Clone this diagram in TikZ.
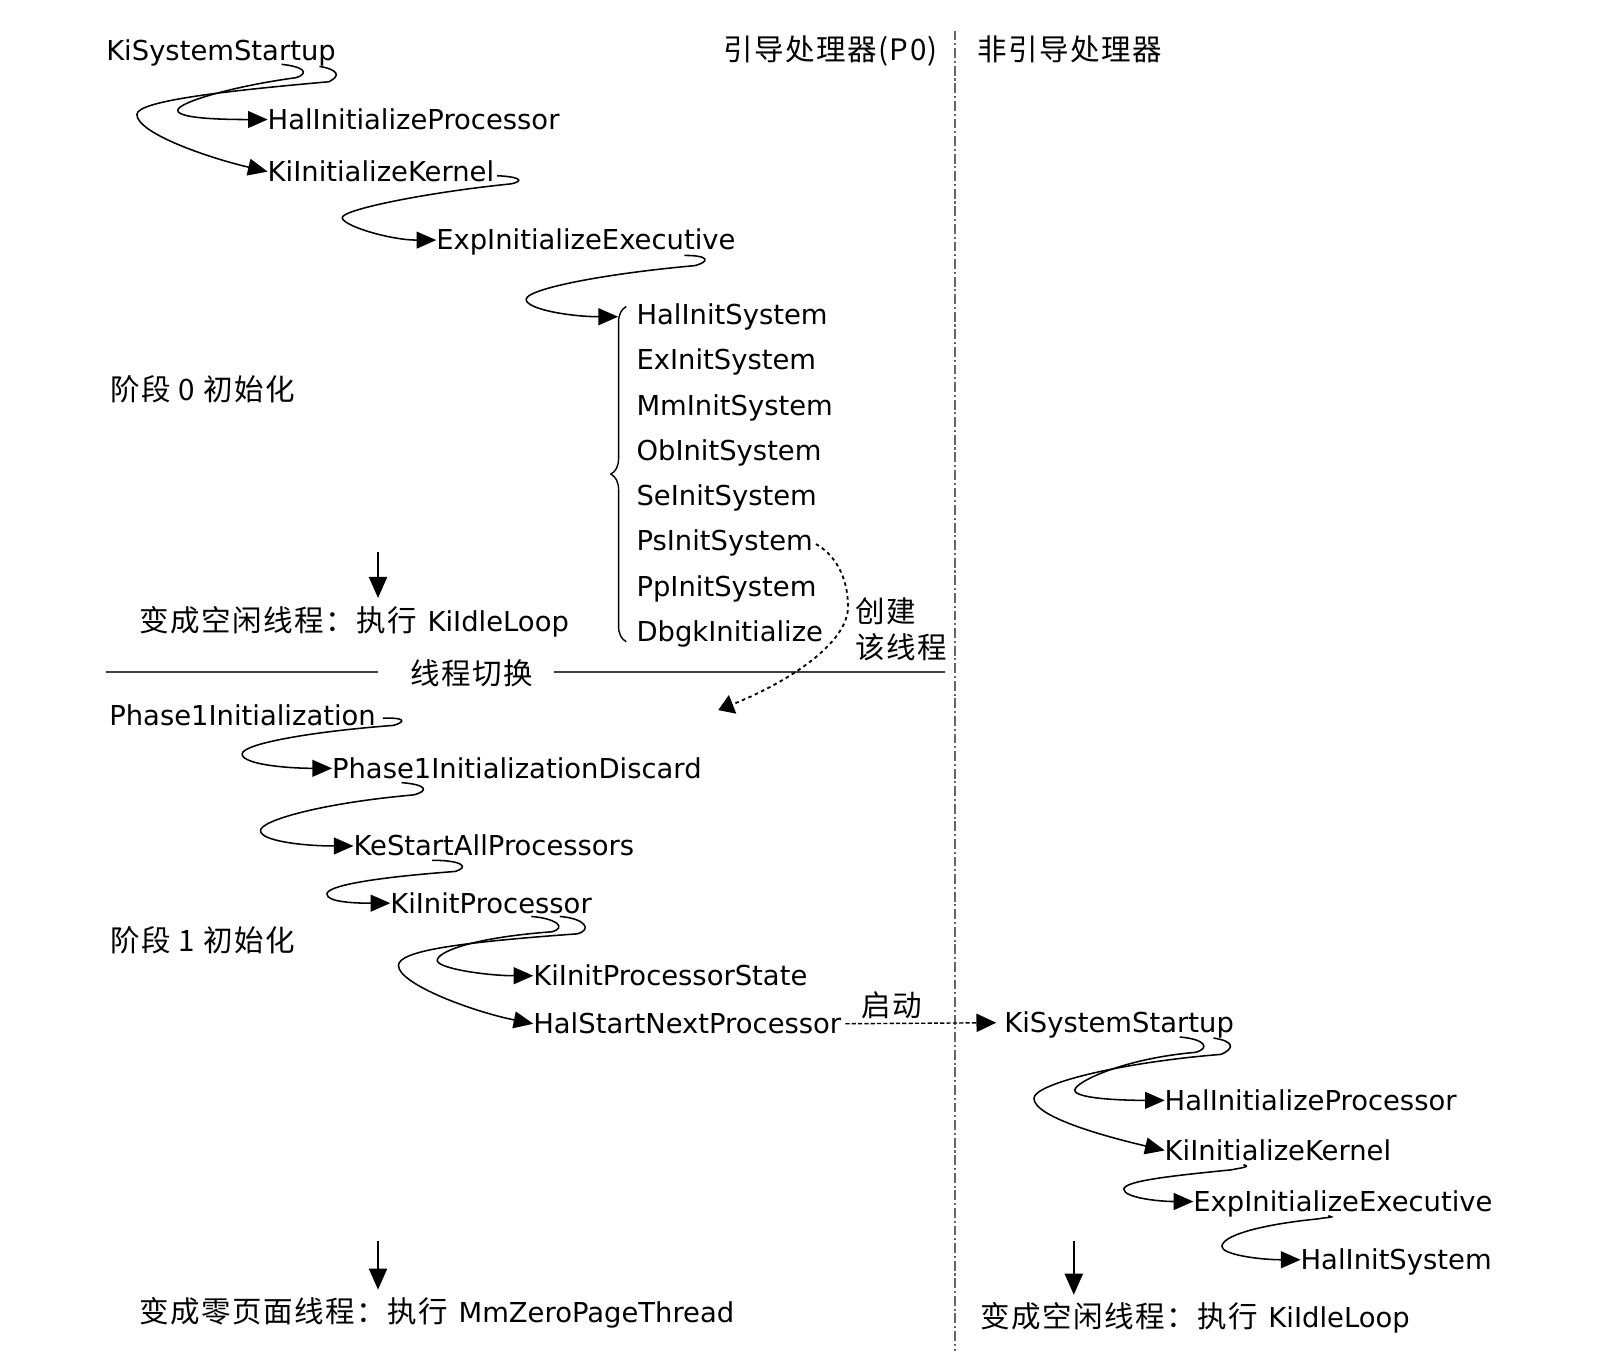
\documentclass[tikz,border=0pt]{standalone}
\usepackage{fontspec}
\setmainfont{DejaVu Sans}
\newfontfamily\cjk[LetterSpace=5]{Noto Sans CJK SC}
\newcommand\zhtext[1]{{\cjk\fontsize{21}{25}\selectfont #1}}
\usetikzlibrary{arrows.meta,decorations.pathreplacing}
\tikzset{
  fn/.style = {anchor=west, inner sep=0pt, outer sep=0pt,
               text height=15pt, text depth=1pt},
  call/.style = {line width=1.1pt, -{Triangle[length=14pt,width=12pt]}},
  down/.style = {line width=1pt, shorten >=0.3cm,
                 -{Triangle[length=15pt,width=13pt]}},
  spawn/.style = {line width=1.3pt, dash pattern=on 2.5pt off 2.5pt,
                  -{Triangle[length=11pt,width=14pt]}},
  wake/.style = {line width=1pt, dash pattern=on 3pt off 1.5pt,
                 -{Triangle[length=14pt,width=13pt]}},
  sepline/.style = {black!75, line width=1.2pt},
  divider/.style = {black!60, line width=1.2pt,
                    dash pattern=on 7pt off 2pt on 1.5pt off 2pt}
}

\begin{document}
\begin{tikzpicture}[x=0.02555cm, y=-0.02555cm, font=\fontsize{19.5}{23}\selectfont]
	\def \dy{44.3}
	\useasboundingbox (0,0) rectangle (1568,1322);

	% Processors
	\draw[divider] (935,30) -- (935,1322);
	\node[fn] (kss) at (104,50) {KiSystemStartup};
	\node[fn, anchor=east] (boot) at (918,50) {\zhtext{引导处理器(P0)}};
	\node[fn] (nonboot) at (957,50) {\zhtext{非引导处理器}};

	% Phase 0
	\node[fn] (hip) at (262,117) {HalInitializeProcessor};
	\node[fn] (kik) at (262,168) {KiInitializeKernel};
	\node[fn] (eie) at (427,235) {ExpInitializeExecutive};
	\node[fn] (his) at (623,308) {HalInitSystem};
	\node[fn] (exs) at (623,308+1*\dy) {ExInitSystem};
	\node[fn] (mms) at (623,308+2*\dy) {MmInitSystem};
	\node[fn] (obs) at (623,308+3*\dy) {ObInitSystem};
	\node[fn] (ses) at (623,308+4*\dy) {SeInitSystem};
	\node[fn] (pss) at (623,308+5*\dy) {PsInitSystem};
	\node[fn] (pps) at (623,308+6*\dy) {PpInitSystem};
	\node[fn] (dbg) at (623,308+7*\dy) {DbgkInitialize};
	\node[fn] (ph0) at (108,382) {\zhtext{阶段 0 初始化}};
	\node[fn] (idle) at (137,608) {\zhtext{变成空闲线程：执行}\hspace{1pt} KiIdleLoop};

	\draw[call] ([shift={(-53,13)}]kss.east)
		.. controls +(20,2) and +(14,-5) .. (290,76)
		.. controls +(-60,8) and +(0,-8) .. (174,108)
		.. controls +(0,8) and +(-45,0) .. (hip.west);
	\draw[call] ([shift={(-16,15)}]kss.east)
		.. controls +(18,3) and +(12,-6) .. (322,80)
		.. controls +(-90,8) and +(0,-14) .. (134,112)
		.. controls +(0,18) and +(-60,-14) .. (kik.west);
	\draw[call] ([shift={(3,4)}]kik.east)
		.. controls +(22,1) and +(14,-3) .. (500,180)
		.. controls +(-80,8) and +(0,-8) .. (335,213)
		.. controls +(0,8) and +(-45,0) .. (eie.west);
	\draw[call] ([shift={(-50,15)}]eie.east)
		.. controls +(25,0) and +(15,-4) .. (680,260)
		.. controls +(-90,8) and +(0,-10) .. (515,293)
		.. controls +(0,10) and +(-45,0) .. ([shift={(-18,2)}]his.west);
	\draw[line width=1pt, decorate, decoration={brace, amplitude=11pt}]
		([shift={(-10,10)}]dbg.west) -- ([shift={(-10,-8)}]his.west);

	% Idle
	\coordinate (d0) at (370,540);
	\draw[down] (d0) -- (d0 |- idle.north);

	% Thread switch
	\node[fn] (ts) at (402,660) {\zhtext{线程切换}};
	\draw[sepline] (104,658) -- ([shift={(-32,-2)}]ts.west);
	\draw[sepline] ([shift={(20,-2)}]ts.east) -- (925,658);
	\node[fn] (cj) at (837,600) {\zhtext{创建}};
	\node[fn] (gx) at (837,635) {\zhtext{该线程}};
	\coordinate (thr) at (703,695);
	\draw[spawn] ([shift={(3,3)}]pss.east)
		.. controls +(18,10) and +(0,-30) .. (830,594)
		.. controls +(0,35) and +(70,-28) .. (thr);

	% Phase 1
	\node[fn] (p1i) at (107,700) {Phase1Initialization};
	\node[fn] (p1d) at (325,752) {Phase1InitializationDiscard};
	\node[fn] (ksap) at (346,828) {KeStartAllProcessors};
	\node[fn] (kip) at (382,884) {KiInitProcessor};
	\node[fn] (ph1) at (108,922) {\zhtext{阶段 1 初始化}};
	\node[fn] (kips) at (522,955) {KiInitProcessorState};
	\node[fn] (hsnp) at (522,1002) {HalStartNextProcessor};
	\node[fn] (qd) at (843,985) {\zhtext{启动}};
	\node[fn] (zp) at (137,1285) {\zhtext{变成零页面线程：执行}\hspace{1pt} MmZeroPageThread};

	\draw[call] ([shift={(7,3)}]p1i.east)
		.. controls +(20,-1) and +(14,-4) .. (385,710)
		.. controls +(-80,6) and +(0,-10) .. (237,738)
		.. controls +(0,10) and +(-45,0) .. (p1d.west);
	\draw[call] ([shift={(68,14)}]p1d.west)
		.. controls +(25,2) and +(15,-4) .. (405,778)
		.. controls +(-90,8) and +(0,-10) .. (255,813)
		.. controls +(0,10) and +(-50,0) .. (ksap.west);
	\draw[call] ([shift={(77,14)}]ksap.west)
		.. controls +(30,0) and +(15,-4) .. (445,853)
		.. controls +(-80,6) and +(0,-8) .. (320,875)
		.. controls +(0,8) and +(-35,0) .. (kip.west);
	\draw[call] ([shift={(138,13)}]kip.west)
		.. controls +(25,2) and +(15,-4) .. (540,912)
		.. controls +(-80,6) and +(0,-8) .. (428,940)
		.. controls +(0,8) and +(-45,0) .. (kips.west);
	\draw[call] ([shift={(166,13)}]kip.west)
		.. controls +(25,2) and +(15,-4) .. (565,914)
		.. controls +(-110,8) and +(0,-15) .. (390,945)
		.. controls +(0,18) and +(-60,-12) .. (hsnp.west);

	\coordinate (d1) at (370,1215);
	\draw[down] (d1) -- (d1 |- zp.north);

	% Non-boot processor
	\node[fn] (kss2) at (983,1001) {KiSystemStartup};
	\node[fn] (hip2) at (1140,1077) {HalInitializeProcessor};
	\node[fn] (kik2) at (1140,1126) {KiInitializeKernel};
	\node[fn] (eie2) at (1168,1176) {ExpInitializeExecutive};
	\node[fn] (his2) at (1273,1233) {HalInitSystem};
	\node[fn] (idle2) at (960,1290) {\zhtext{变成空闲线程：执行}\hspace{1pt} KiIdleLoop};

	\draw[wake] ([shift={(4,0)}]hsnp.east) -- ([shift={(-8,0)}]kss2.west);
	\draw[call] ([shift={(-53,14)}]kss2.east)
		.. controls +(25,2) and +(15,-4) .. (1170,1030)
		.. controls +(-70,6) and +(0,-8) .. (1052,1067)
		.. controls +(0,8) and +(-45,0) .. (hip2.west);
	\draw[call] ([shift={(-20,15)}]kss2.east)
		.. controls +(20,3) and +(14,-6) .. (1195,1032)
		.. controls +(-100,8) and +(0,-14) .. (1012,1075)
		.. controls +(0,18) and +(-60,-14) .. (kik2.west);
	\draw[call] ([shift={(77,14)}]kik2.west)
		.. controls +(8,2) and +(10,-2) .. (1205,1145)
		.. controls +(-60,6) and +(0,-8) .. (1100,1164)
		.. controls +(0,8) and +(-35,0) .. (eie2.west);
	\draw[call] ([shift={(132,14)}]eie2.west)
		.. controls +(8,2) and +(10,-2) .. (1290,1193)
		.. controls +(-60,6) and +(0,-10) .. (1196,1220)
		.. controls +(0,8) and +(-40,0) .. (his2.west);

	\coordinate (d2) at (1051,1215);
	\draw[down] (d2) -- (d2 |- idle2.north);
\end{tikzpicture}
\end{document}
